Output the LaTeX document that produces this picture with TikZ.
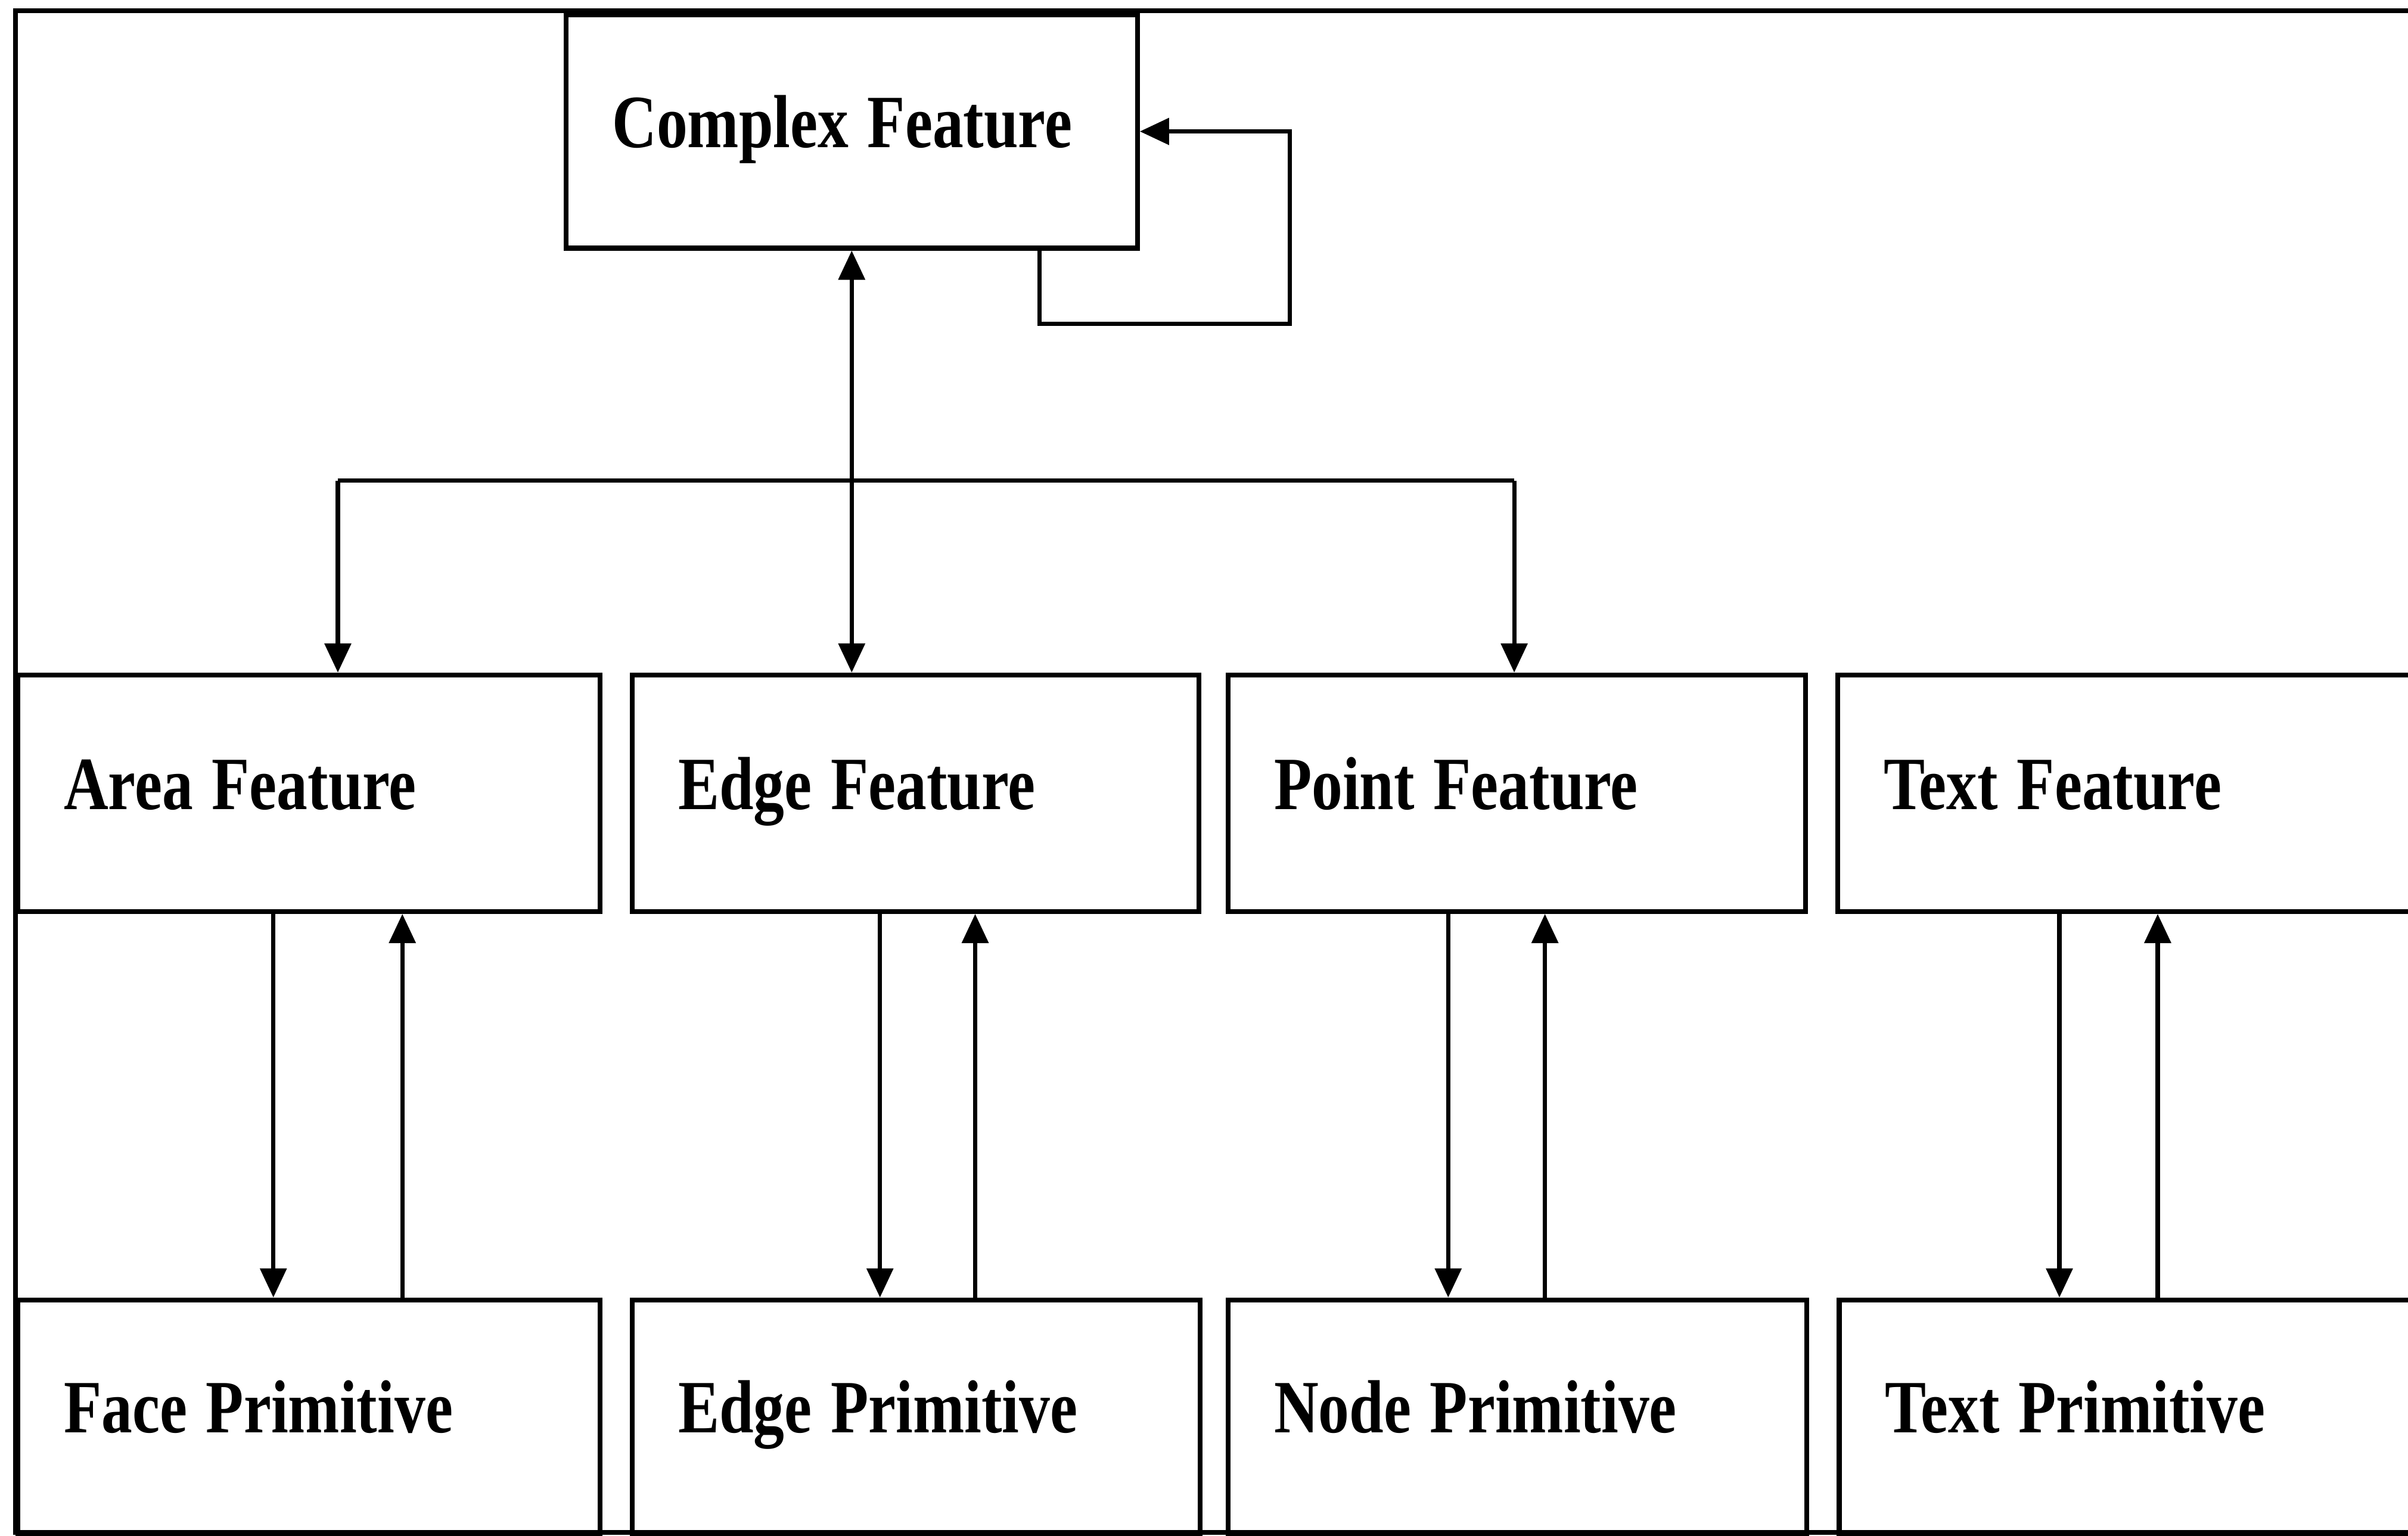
\documentclass[tikz,border=0pt]{standalone}
\usepackage{fontspec}
\newfontfamily\boxfont{Liberation Serif}[FakeStretch=0.82]
\usetikzlibrary{arrows.meta}

% label font for all boxes: condensed bold serif
\newcommand\boxlabelfont{\boxfont\bfseries\fontsize{49}{55}\selectfont}
% tighter word gap used inside the box labels
\newcommand\tight{\hspace{-4pt}}

\tikzset{
  >={Triangle[length=19pt,width=17pt]},
  box/.style={draw, rectangle, line width=3.2pt, anchor=north west,
    inner xsep=30pt, inner ysep=0pt,
    text height=33pt, text depth=12pt, font=\boxlabelfont},
  toprow/.style={box, minimum height=154pt},
  botrow/.style={box, minimum height=152pt},
  conn/.style={line width=2.8pt},
  frame/.style={line width=3pt}
}

\begin{document}
\begin{tikzpicture}[x=1pt, y=-1pt]
  \path[use as bounding box] (0,0) rectangle (1568,1000);
  \clip (0,0) rectangle (1568,1000);

  % outer frame (open on the right)
  \draw[frame] (1600,7) -- (10,7) -- (10,998) -- (1600,998);

  % top level
  \node[box, minimum height=152pt, minimum width=372pt, text width=312pt]
    (complex) at (367,8) {Complex\tight{} Feature};

  % feature row
  \node[toprow, minimum width=379pt, text width=319pt] (areaF)  at (10,438)   {Area\tight{} Feature};
  \node[toprow, minimum width=369pt, text width=309pt] (edgeF)  at (410,438)  {Edge\tight{} Feature};
  \node[toprow, minimum width=376pt, text width=316pt] (pointF) at (798,438)  {Point\tight{} Feature};
  \node[toprow, minimum width=405pt, text width=345pt] (textF)  at (1195,438) {Text\tight{} Feature};

  % primitive row
  \node[botrow, minimum width=379pt, text width=319pt] (faceP)  at (10,845)   {Face\tight{} Primitive};
  \node[botrow, minimum width=370pt, text width=310pt] (edgeP)  at (410,845)  {Edge\tight{} Primitive};
  \node[botrow, minimum width=377pt, text width=317pt] (nodeP)  at (798,845)  {Node\tight{} Primitive};
  \node[botrow, minimum width=404pt, text width=344pt] (textP)  at (1196,845) {Text\tight{} Primitive};

  % complex feature refers to itself
  \coordinate (loopC) at (840,211);
  \draw[conn,->] (677,0 |- complex.south) |- (loopC) |- (complex.east);

  % complex <-> edge feature
  \draw[conn,<->] (complex.south) -- (complex.south |- edgeF.north);

  % distribution bus to area and point features
  \coordinate (busL) at (220,313);
  \coordinate (busR) at (986,313);
  \draw[conn] (busL) -- (busR);
  \draw[conn,->] (busL) -- (busL |- areaF.north);
  \draw[conn,->] (busR) -- (busR |- pointF.north);

  % feature <-> primitive links
  \draw[conn,->] (178,0 |- areaF.south) -- (178,0 |- faceP.north);
  \draw[conn,->] (262,0 |- faceP.north) -- (262,0 |- areaF.south);

  \draw[conn,->] (573,0 |- edgeF.south) -- (573,0 |- edgeP.north);
  \draw[conn,->] (635,0 |- edgeP.north) -- (635,0 |- edgeF.south);

  \draw[conn,->] (943,0 |- pointF.south) -- (943,0 |- nodeP.north);
  \draw[conn,->] (1006,0 |- nodeP.north) -- (1006,0 |- pointF.south);

  \draw[conn,->] (1341,0 |- textF.south) -- (1341,0 |- textP.north);
  \draw[conn,->] (1405,0 |- textP.north) -- (1405,0 |- textF.south);
\end{tikzpicture}
\end{document}
